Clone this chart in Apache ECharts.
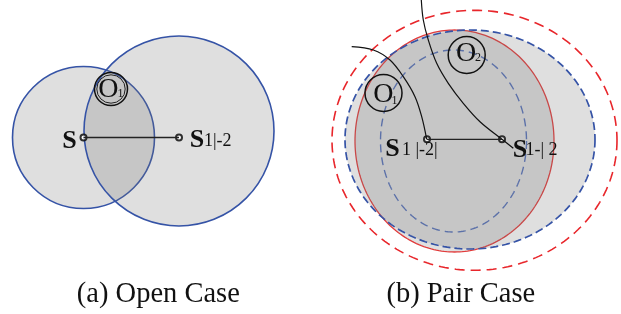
<!DOCTYPE html>
<html>
<head>
<meta charset="utf-8">
<script src="https://cdn.jsdelivr.net/npm/echarts/dist/echarts.min.js"></script>
<style>
html,body{margin:0;padding:0;background:#fff;}
#chart{width:621px;height:314px;}
</style>
</head>
<body>
<div id="chart"></div>
<script>
// ---- data (diagram units) ----
// panel (a) circles: [cx, cy, r]
const openCircles = [[83.5, 137.5, 71], [179, 131, 95]];
// panel (b) ellipses: [cx, cy, rx, ry]  (drawn in this order)
const pairShapes = [
  [454.5, 141, 99.5, 111],    // red solid, filled
  [453.5, 141, 73, 91],       // inner blue dashed
  [470, 139.5, 125, 109.5],   // outer blue dashed, filled
  [474.5, 140.3, 142.5, 130]  // outer red dashed
];
// O rings: [cx, cy, r]
const rings = [[111, 89, 16.5], [383.5, 93, 18.5], [466.7, 55, 18.5]];
// curved paths in panel (b)
const arcOne = [[351.7,46.7],[373.3,50],[390,60],[403.3,76.7],[415,96.7],[421.7,116.7],[426.7,139.3]];
const arcTwo = [[421.3,0],[423.3,20],[428.3,40],[436.7,63.3],[448.3,83.3],[463.3,103.3],[480,121.7],[502,139.3],[513.3,148.3]];
// straight segments
const segOpen = [[83.5,137.5],[179,137.5]];
const segPair = [[427,139.3],[502,139.3]];
// station points
const stations = [[83.5,137.5],[179,137.5],[427,139.3],[502,139.3]];
// labels
const mainLabelText = ['S','S','S','S'];
const mainLabelPos = [[69.5,141],[197,140],[392.5,149.5],[520,150]];
const subLabelText = ['1|-2','1 |-2|','1-| 2'];
const subLabelPos = [[204,141],[402,150],[525.5,150]];
const ringText = ['O','O','O'];
const ringTextPos = [[108.3,90],[383.3,95],[466,53.5]];
const ringSubText = ['1','1','2'];
const ringSubPos = [[120.5,94],[394.5,101],[478,58]];
const captions = ['(a) Open Case','(b) Pair Case'];
const captionPos = [[158.3,294.7],[460.8,294.7]];

// ---- styles ----
const GRAY = 'rgba(118,118,118,0.23)';
const BLUE = '#3553a6';
const RED = '#e8262b';
const openStyles = [
  {fill: GRAY, stroke: BLUE, lineWidth: 1.6},
  {fill: GRAY, stroke: BLUE, lineWidth: 1.6}
];
const pairStyles = [
  {fill: GRAY, stroke: '#e23b3b', lineWidth: 1.3},
  {fill: 'none', stroke: '#5570b8', lineWidth: 1.4, lineDash: [8, 5]},
  {fill: GRAY, stroke: BLUE, lineWidth: 1.7, lineDash: [8, 4]},
  {fill: 'none', stroke: RED, lineWidth: 1.6, lineDash: [10, 6]}
];
const FONT = '"Liberation Serif", "Times New Roman", serif';

function textSeries(pos, texts, size, align, weight) {
  return {
    type: 'custom', silent: true,
    data: pos.map(p => p.slice()),
    renderItem: function (params, api) {
      const c = api.coord([api.value(0), api.value(1)]);
      return {
        type: 'text', x: c[0], y: c[1],
        style: {
          text: texts[params.dataIndex],
          font: (weight || 'normal') + ' ' + size + 'px ' + FONT,
          fill: '#111',
          align: align, verticalAlign: 'middle',
          textAlign: align, textVerticalAlign: 'middle'
        }
      };
    }
  };
}

const series = [];
// panel (a) circles
series.push({
  type: 'custom', silent: true,
  data: openCircles.map(d => d.slice()),
  renderItem: function (params, api) {
    const c = api.coord([api.value(0), api.value(1)]);
    const r = Math.abs(api.size([api.value(2), 0])[0]);
    return {type: 'circle', shape: {cx: c[0], cy: c[1], r: r}, style: openStyles[params.dataIndex]};
  }
});
// panel (b) ellipses
series.push({
  type: 'custom', silent: true,
  data: pairShapes.map(d => d.slice()),
  renderItem: function (params, api) {
    const c = api.coord([api.value(0), api.value(1)]);
    const s = api.size([api.value(2), api.value(3)]);
    const rx = Math.abs(s[0]), ry = Math.abs(s[1]);
    const pts = [];
    for (let k = 0; k < 240; k++) {
      const t = k / 240 * Math.PI * 2;
      pts.push([c[0] + rx * Math.cos(t), c[1] + ry * Math.sin(t)]);
    }
    return {type: 'polygon', shape: {points: pts}, style: pairStyles[params.dataIndex]};
  }
});
// curves and segments
[arcOne, arcTwo].forEach(a => series.push({
  type: 'line', data: a.map(d => d.slice()), smooth: 0.35, symbol: 'none', silent: true,
  lineStyle: {color: '#111', width: 1.2}
}));
[segOpen, segPair].forEach(a => series.push({
  type: 'line', data: a.map(d => d.slice()), symbol: 'none', silent: true,
  lineStyle: {color: '#222', width: 1.3}
}));
// rings
series.push({
  type: 'custom', silent: true,
  data: rings.map(d => d.slice()),
  renderItem: function (params, api) {
    const c = api.coord([api.value(0), api.value(1)]);
    const r = Math.abs(api.size([api.value(2), 0])[0]);
    const children = [{type: 'circle', shape: {cx: c[0], cy: c[1], r: r}, style: {fill: 'none', stroke: '#111', lineWidth: 1.5}}];
    if (params.dataIndex === 0) {
      children.push({type: 'circle', shape: {cx: c[0], cy: c[1], r: r - 2.3}, style: {fill: 'none', stroke: '#222', lineWidth: 1}});
    }
    return {type: 'group', children: children};
  }
});
// station points
series.push({
  type: 'scatter', data: stations.map(d => d.slice()), symbol: 'circle', symbolSize: 6, silent: true,
  itemStyle: {color: '#fff', borderColor: '#000', borderWidth: 2}
});
// texts
series.push(textSeries(mainLabelPos, mainLabelText, 26, 'center', 'bold'));
series.push(textSeries(subLabelPos, subLabelText, 18, 'left'));
series.push(textSeries(ringTextPos, ringText, 28, 'center'));
series.push(textSeries(ringSubPos, ringSubText, 12, 'center'));
series.push(textSeries(captionPos, captions, 28.5, 'center'));

const chart = echarts.init(document.getElementById('chart'), null, {renderer: 'canvas'});
chart.setOption({
  animation: false,
  grid: {left: 0, right: 0, top: 0, bottom: 0},
  xAxis: {type: 'value', min: 0, max: 621, show: false},
  yAxis: {type: 'value', min: 0, max: 314, inverse: true, show: false},
  series: series
});
</script>
</body>
</html>
